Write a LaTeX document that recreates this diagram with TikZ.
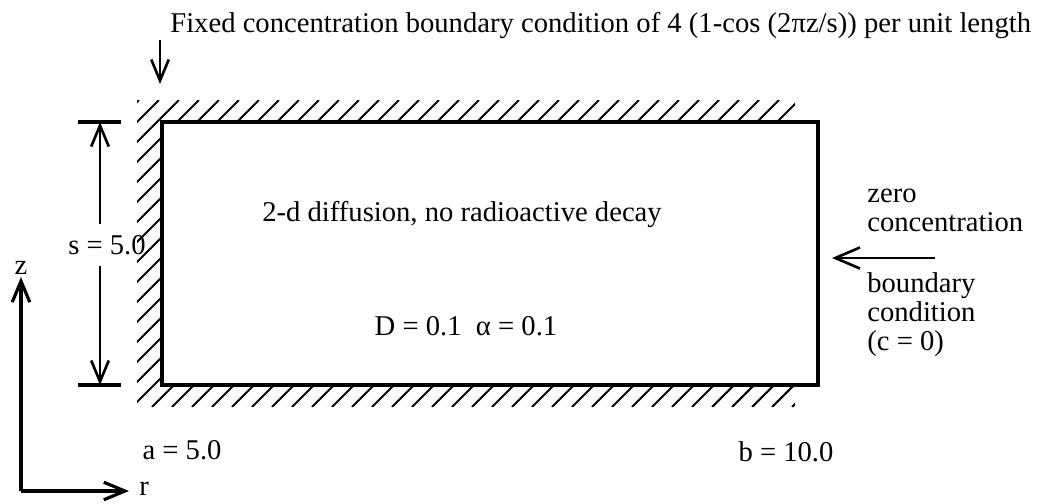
\documentclass[tikz,border=0pt]{standalone}
\usepackage{fontspec}
\setmainfont{Liberation Serif}
\usetikzlibrary{arrows.meta,positioning}

\begin{document}
\begin{tikzpicture}[
  x=0.02cm, y=-0.02cm,
  lbl/.style={inner sep=0pt, font=\fontsize{16.3}{16.5}\selectfont},
  wall/.style={line width=2pt},
  hatch/.style={line width=1.2pt},
  arr/.style={-{Straight Barb[length=12pt,width=10pt]}, line width=1.5pt},
  tick/.style={line width=2pt}
]
\useasboundingbox (0,0) rectangle (1039,504);

\coordinate (tl) at (162,122);
\coordinate (br) at (818,385);

\begin{scope}
  \clip (137,100) rectangle (795,122) (137,100) rectangle (162,407) (137,385) rectangle (795,407);
  \foreach \c in {239,259,...,1219}
    \draw[hatch] ({\c-407},407) -- ({\c-100},100);
\end{scope}
\draw[wall] (tl) rectangle (br);

\node[lbl, anchor=base west] (fixed) at (170,32) {Fixed concentration boundary condition of 4 (1-cos (2πz/s)) per unit length};
\coordinate (fixtail) at (160,40);
\coordinate (fixtip)  at (160,84);
\draw[arr] (fixtail) -- (fixtip);

\node[lbl] (diff) at (462,215) {2-d diffusion, no radioactive decay};
\node[lbl] (coef) at (466,326) {D = 0.1\ \ α = 0.1};

\coordinate (stop) at (100,122);
\coordinate (sbot) at (100,385);
\draw[tick] (78,122) -- (121,122);
\draw[tick] (78,385) -- (121,385);
\node[lbl, inner ysep=6pt] (slen) at (107,245) {s = 5.0};
\draw[arr] (slen.north -| stop) -- (stop);
\draw[arr] (slen.south -| sbot) -- (sbot);

\node[lbl] (aval) at (182,450) {a = 5.0};
\node[lbl] (bval) at (786,452) {b = 10.0};

\coordinate (bctail) at (935,258);
\coordinate (bctip)  at (832,258);
\draw[arr, -{Straight Barb[length=14pt,width=12pt]}] (bctail) -- (bctip);
\node[lbl, align=left, anchor=west] (zero)  at (867,210) {zero\\concentration};
\node[lbl, align=left, anchor=west] (bcond) at (867,315) {boundary\\condition\\(c = 0)};

\coordinate (orig) at (21,491);
\coordinate (ztip) at (21,277);
\coordinate (rtip) at (129,491);
\draw[arr, line width=1.8pt] (orig) -- (ztip);
\draw[arr, line width=1.8pt] (orig) -- (rtip);
\node[lbl, above=1pt of ztip] (zax) {z};
\node[lbl, anchor=north west] (rax) at (139,482) {r};

\end{tikzpicture}
\end{document}
